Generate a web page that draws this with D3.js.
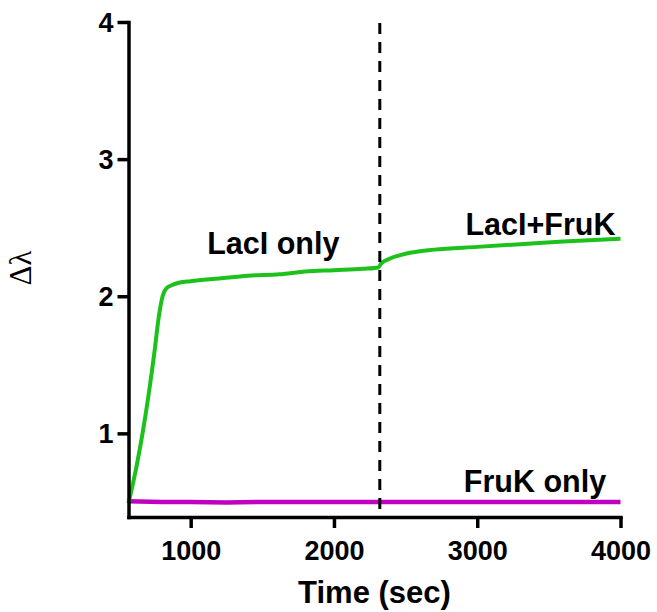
<!DOCTYPE html>
<html>
<head>
<meta charset="utf-8">
<script src="https://cdn.jsdelivr.net/npm/d3@7"></script>
<style>
  html, body { margin: 0; padding: 0; background: #fff; }
  svg { display: block; }
  text { font-family: "Liberation Sans", Arial, sans-serif; }
</style>
</head>
<body>
<svg id="chart" width="657" height="612"></svg>
<script>
// ---- Data ----
const lacTime  = [566, 622, 664, 706, 748, 776, 804, 832, 867, 923, 1000, 1200, 1400, 1620, 1800, 2000, 2200, 2310, 2330, 2380, 2500, 2700, 3000, 3300, 3600, 4000];
const lacValue = [0.49, 0.76, 1.0, 1.28, 1.60, 1.84, 2.0, 2.06, 2.08, 2.10, 2.11, 2.13, 2.15, 2.16, 2.18, 2.19, 2.20, 2.21, 2.24, 2.27, 2.31, 2.34, 2.36, 2.38, 2.40, 2.42];
const frukTime  = [566, 800, 1000, 1250, 1500, 1750, 2000, 2250, 2500, 2750, 3000, 3250, 3500, 3750, 4000];
const frukValue = [0.505, 0.50, 0.50, 0.495, 0.50, 0.50, 0.50, 0.50, 0.50, 0.50, 0.50, 0.50, 0.50, 0.50, 0.50];
const xTicks = [1000, 2000, 3000, 4000];
const yTicks = [1, 2, 3, 4];
const eventTime = 2320;
const labels = [
  {text: "LacI only", x: 1115, y: 2.31, anchor: "start"},
  {text: "LacI+FruK", x: 3965, y: 2.45, anchor: "end"},
  {text: "FruK only", x: 3900, y: 0.575, anchor: "end"}
];

// ---- Scales ----
const x = d3.scaleLinear().domain([566, 4000]).range([128.5, 620.5]);
const y = d3.scaleLinear().domain([0.39, 4]).range([517, 22]);

const svg = d3.select("#chart");

// lines
const line = d3.line().x(d => x(d[0])).y(d => y(d[1]));
svg.append("path")
  .datum(frukTime.map((t, i) => [t, frukValue[i]]))
  .attr("d", line).attr("fill", "none")
  .attr("stroke", "#c000c0").attr("stroke-width", 4.5);
svg.append("path")
  .datum(lacTime.map((t, i) => [t, lacValue[i]]))
  .attr("d", d3.line().curve(d3.curveMonotoneX).x(d => x(d[0])).y(d => y(d[1])))
  .attr("fill", "none")
  .attr("stroke", "#1cc11c").attr("stroke-width", 4).attr("stroke-linejoin", "round");

// dashed event line
svg.append("line")
  .attr("x1", x(eventTime)).attr("x2", x(eventTime))
  .attr("y1", y(4) + 1).attr("y2", y(0.39) - 4)
  .attr("stroke", "#000").attr("stroke-width", 3)
  .attr("stroke-dasharray", "11,8");

// axes
const xAxis = svg.append("g").attr("transform", `translate(0,${y(0.39)})`)
  .call(d3.axisBottom(x).tickValues(xTicks).tickSize(11).tickSizeOuter(0).tickFormat(d3.format("d")));
const yAxis = svg.append("g").attr("transform", `translate(${x(566)},0)`)
  .call(d3.axisLeft(y).tickValues(yTicks).tickSize(11).tickSizeOuter(0).tickFormat(d3.format("d")));

[xAxis, yAxis].forEach(g => {
  g.select(".domain").attr("stroke", "#000").attr("stroke-width", 3.5).attr("stroke-linecap", "square");
  g.selectAll(".tick line").attr("stroke", "#000").attr("stroke-width", 3.5);
  g.selectAll(".tick text")
    .attr("fill", "#000")
    .style("font-family", '"Liberation Sans", Arial, sans-serif')
    .style("font-size", "27px").style("font-weight", "bold");
});
xAxis.selectAll(".tick text").attr("dy", null).attr("y", 43);
yAxis.selectAll(".tick text").attr("x", -15).attr("dy", "0.35em");

// axis titles
svg.append("text")
  .attr("x", (x(566) + x(4000)) / 2).attr("y", 603)
  .attr("text-anchor", "middle")
  .style("font-size", "31px").style("font-weight", "bold")
  .text("Time (sec)");

svg.append("text")
  .attr("transform", `translate(31,268) rotate(-90)`)
  .attr("text-anchor", "middle")
  .style("font-family", '"Liberation Serif", "DejaVu Serif", serif')
  .style("font-size", "31px")
  .text("Δλ");

// series labels
svg.selectAll("text.lbl").data(labels).enter().append("text")
  .attr("class", "lbl")
  .attr("x", d => x(d.x))
  .attr("y", d => y(d.y))
  .attr("text-anchor", d => d.anchor)
  .style("font-size", "30.5px").style("font-weight", "bold")
  .text(d => d.text);
</script>
</body>
</html>
